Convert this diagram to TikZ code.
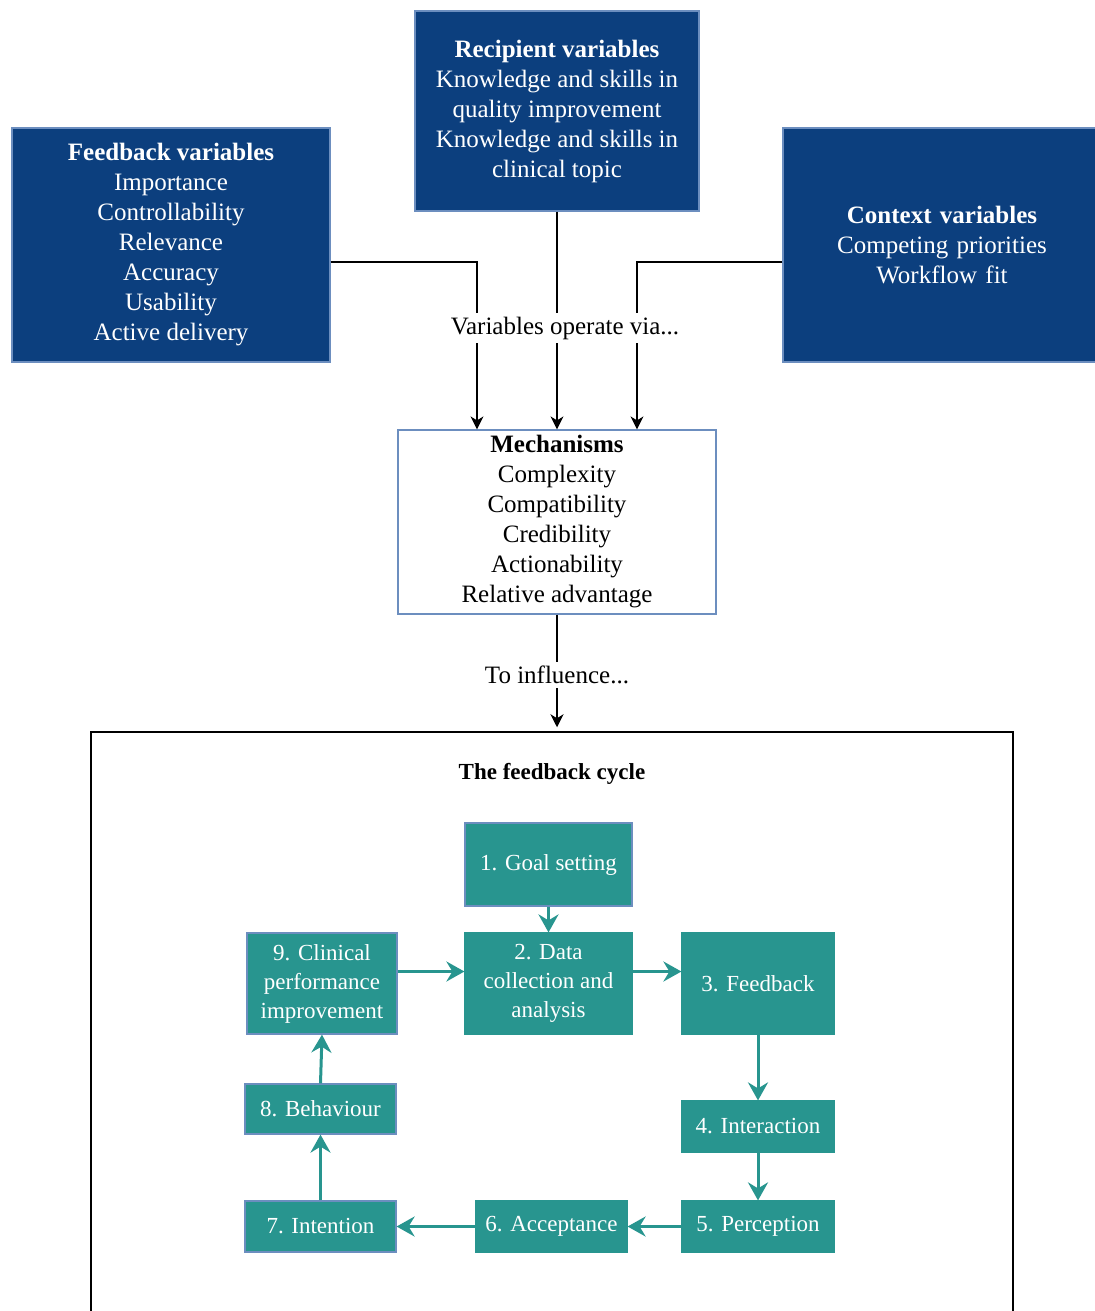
\documentclass[tikz,border=0pt]{standalone}
\usepackage{fontspec}
\setmainfont{Liberation Serif}
\usetikzlibrary{arrows.meta}
\definecolor{fcnavy}{HTML}{0C3F7E}
\definecolor{fcnavyline}{HTML}{6C8EBF}
\definecolor{fcteal}{HTML}{28958F}
\definecolor{fcink}{HTML}{000000}
\tikzset{
  fcvar/.style={
    draw=fcnavyline,
    fill=fcnavy,
    text=white,
    align=center,
    line width=0.6pt,
    inner sep=0pt,
    font=\fontsize{12.5}{15}\selectfont
  },
  fcmech/.style={
    fcvar,
    fill=white,
    text=fcink
  },
  fcstep/.style={
    draw=fcteal,
    fill=fcteal,
    text=white,
    align=center,
    line width=0.6pt,
    inner sep=0pt,
    font=\fontsize{11.5}{14.5}\selectfont
  },
  fcstepalt/.style={
    fcstep,
    draw=fcnavyline
  },
  fcframe/.style={
    draw=fcink,
    line width=0.75pt,
    inner sep=0pt
  },
  fcedge/.style={
    -{Stealth[length=6.5pt,width=6.5pt,inset=2pt]},
    line width=0.7pt,
    color=fcink
  },
  fccycleedge/.style={
    -{Stealth[length=9pt,width=10pt,inset=3pt]},
    line width=1.5pt,
    color=fcteal
  },
  fclabel/.style={
    fill=white,
    inner xsep=1pt,
    inner ysep=2pt,
    font=\fontsize{12.5}{15}\selectfont
  },
  fcgroup/.style={
    font=\fontsize{11.5}{14.5}\selectfont\bfseries
  }
}

\begin{document}
\begin{tikzpicture}[x=0.5pt,y=-0.5pt]
  \useasboundingbox (0,0) rectangle (1095,1311);
  \clip (0,0) rectangle (1095,1311);

  \node[fcvar, minimum width=159pt, minimum height=117pt] (fbvar) at (171,245) {%
    \textbf{Feedback variables}\\
    Importance\\
    Controllability\\
    Relevance\\
    Accuracy\\
    Usability\\
    Active delivery
  };

  \node[fcvar, minimum width=142pt, minimum height=100pt] (recvar) at (557,111) {%
    \textbf{Recipient variables}\\
    Knowledge and skills in\\
    quality improvement\\
    Knowledge and skills in\\
    clinical topic
  };

  \node[fcvar, minimum width=159pt, minimum height=117pt, text width=156pt] (ctxvar) at (942,245) {%
    \textbf{Context variables}\\
    Competing priorities\\
    Workflow fit
  };

  \node[fcmech, minimum width=159pt, minimum height=92pt] (mech) at (557,522) {%
    \textbf{Mechanisms}\\
    Complexity\\
    Compatibility\\
    Credibility\\
    Actionability\\
    Relative advantage
  };

  \node[fcframe, minimum width=461pt, minimum height=299pt] (cyclebox) at (552,1031) {};
  \node[fcgroup] (cycletitle) at (552,774) {The feedback cycle};

  \node[fcstepalt, minimum width=83.5pt, minimum height=41.5pt] (step1) at (548.5,864.5) {1. Goal setting};
  \node[fcstep, minimum width=83.5pt, minimum height=50.5pt] (step2) at (548.5,983.5) {2. Data\\collection and\\analysis};
  \node[fcstep, minimum width=76pt, minimum height=50.5pt] (step3) at (758,983.5) {3. Feedback};
  \node[fcstep, minimum width=76pt, minimum height=25.5pt] (step4) at (758,1126.5) {4. Interaction};
  \node[fcstep, minimum width=76pt, minimum height=25.5pt] (step5) at (758,1226.5) {5. Perception};
  \node[fcstep, minimum width=75.5pt, minimum height=25.5pt] (step6) at (551.5,1226.5) {6. Acceptance};
  \node[fcstepalt, minimum width=75.5pt, minimum height=25.5pt] (step7) at (320.5,1226.5) {7. Intention};
  \node[fcstepalt, minimum width=75.5pt, minimum height=25pt] (step8) at (320.5,1109) {8. Behaviour};
  \node[fcstepalt, minimum width=75pt, minimum height=50.5pt] (step9) at (322,983.5) {9. Clinical\\performance\\improvement};

  \draw[fcedge] ([yshift=-8.5pt]fbvar.east) -| ([xshift=-40pt]mech.north);
  \draw[fcedge] (recvar.south) -- (mech.north);
  \draw[fcedge] ([yshift=-8.5pt]ctxvar.west) -| ([xshift=40pt]mech.north);
  \node[fclabel] (vialabel) at (565,328) {Variables operate via...};

  \draw[fcedge] (mech.south) -- ([yshift=2pt]mech.south |- cyclebox.north);
  \node[fclabel] (inflabel) at (557,675) {To influence...};

  \draw[fccycleedge] (step1) -- (step2);
  \draw[fccycleedge] ([yshift=6pt]step2.east) -- ([yshift=6pt]step3.west);
  \draw[fccycleedge] (step3) -- (step4);
  \draw[fccycleedge] (step4) -- (step5);
  \draw[fccycleedge] (step5) -- (step6);
  \draw[fccycleedge] (step6) -- (step7);
  \draw[fccycleedge] (step7) -- (step8);
  \draw[fccycleedge] (step8.north) -- (step9.south);
  \draw[fccycleedge] ([yshift=6pt]step9.east) -- ([yshift=6pt]step2.west);
\end{tikzpicture}
\end{document}
